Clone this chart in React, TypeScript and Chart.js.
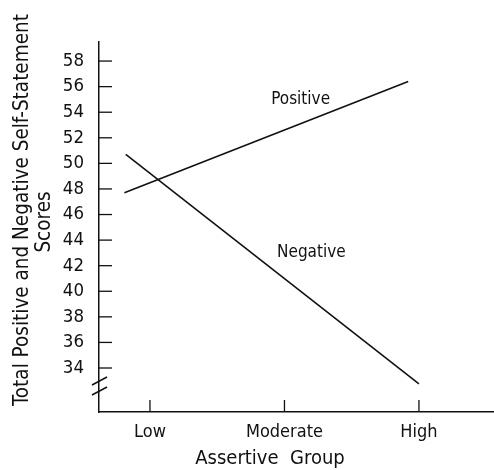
import React, { useEffect, useRef } from "react";
import { Chart, registerables } from "chart.js";

Chart.register(...registerables);

const groupLabels = ["Low", "Moderate", "High"];
const groupValues = [1, 2, 3];
const yTickValues = [34, 36, 38, 40, 42, 44, 46, 48, 50, 52, 54, 56, 58];

const positiveX = [0.81, 2.92];
const positiveY = [47.7, 56.4];
const negativeX = [0.82, 3.0];
const negativeY = [50.7, 32.75];

const FONT = "'DejaVu Sans Condensed', 'DejaVu Sans', sans-serif";
const INK = "#111111";

const decorPlugin = {
  id: "decor",
  afterDraw(chart: any) {
    const ctx = chart.ctx as CanvasRenderingContext2D;
    const xs = chart.scales.x;
    const ys = chart.scales.y;
    const left = chart.chartArea.left;
    const bottom = chart.chartArea.bottom;
    ctx.save();
    ctx.strokeStyle = INK;
    ctx.lineWidth = 1.3;
    // inner y ticks
    ys.ticks.forEach((t: any) => {
      const py = ys.getPixelForValue(t.value);
      ctx.beginPath();
      ctx.moveTo(left, py);
      ctx.lineTo(left + 13, py);
      ctx.stroke();
    });
    // inner x ticks
    xs.ticks.forEach((t: any) => {
      const px = xs.getPixelForValue(t.value);
      ctx.beginPath();
      ctx.moveTo(px, bottom);
      ctx.lineTo(px, bottom - 12);
      ctx.stroke();
    });
    // axis break slashes
    ctx.lineWidth = 1.5;
    [31, 21].forEach((off) => {
      ctx.beginPath();
      ctx.moveTo(left - 7, bottom - off + 4);
      ctx.lineTo(left + 8, bottom - off - 4);
      ctx.stroke();
    });
    // series labels
    ctx.fillStyle = INK;
    ctx.font = `17px ${FONT}`;
    ctx.textAlign = "center";
    ctx.textBaseline = "middle";
    ctx.fillText("Positive", xs.getPixelForValue(2.12), ys.getPixelForValue(54.95));
    ctx.fillText("Negative", xs.getPixelForValue(2.2), ys.getPixelForValue(43.0));
    // x title
    ctx.font = `20px ${FONT}`;
    ctx.fillText("Assertive  Group", 270, 459);
    // y title
    ctx.save();
    ctx.rotate(-Math.PI / 2);
    ctx.textBaseline = "alphabetic";
    ctx.font = `20.5px ${FONT}`;
    ctx.fillText("Total Positive and Negative Self-Statement", -210, 28);
    ctx.fillText("Scores", -222, 50);
    ctx.restore();
    ctx.restore();
  },
};

export default function App() {
  const ref = useRef<HTMLCanvasElement | null>(null);
  useEffect(() => {
    if (!ref.current) return;
    const chart = new Chart(ref.current, {
      type: "line",
      data: {
        datasets: [
          {
            label: "Positive",
            data: positiveX.map((x, i) => ({ x, y: positiveY[i] })),
            borderColor: INK,
            borderWidth: 1.6,
            pointRadius: 0,
            fill: false,
          },
          {
            label: "Negative",
            data: negativeX.map((x, i) => ({ x, y: negativeY[i] })),
            borderColor: INK,
            borderWidth: 1.6,
            pointRadius: 0,
            fill: false,
          },
        ],
      },
      options: {
        animation: false,
        responsive: false,
        devicePixelRatio: 1,
        layout: { padding: { top: 42, right: 0, left: 0, bottom: 0 } },
        plugins: { legend: { display: false }, tooltip: { enabled: false }, title: { display: false } },
        scales: {
          x: {
            type: "linear",
            min: 0.621,
            max: 3.558,
            afterBuildTicks: (s: any) => {
              s.ticks = groupValues.map((v) => ({ value: v }));
            },
            afterFit: (s: any) => {
              s.height = 58;
            },
            ticks: {
              autoSkip: false,
              maxRotation: 0,
              padding: 10,
              color: INK,
              font: { family: FONT, size: 18 },
              callback: (v: any) => {
                const i = groupValues.indexOf(Number(v));
                return i >= 0 ? groupLabels[i] : "";
              },
            },
            grid: { display: true, drawOnChartArea: false, drawTicks: false },
            border: { display: true, color: INK, width: 1.5 },
          },
          y: {
            type: "linear",
            min: 30.56,
            max: 59.49,
            afterBuildTicks: (s: any) => {
              s.ticks = yTickValues.map((v) => ({ value: v }));
            },
            afterFit: (s: any) => {
              s.width = 99;
            },
            ticks: {
              autoSkip: false,
              padding: 15,
              color: INK,
              font: { family: FONT, size: 18.5 },
            },
            grid: { display: true, drawOnChartArea: false, drawTicks: false },
            border: { display: true, color: INK, width: 1.5 },
          },
        },
      },
      plugins: [decorPlugin],
    });
    return () => chart.destroy();
  }, []);
  return (
    <div style={{ position: "absolute", left: 0, top: 0, width: 494, height: 470, background: "#fff" }}>
      <canvas ref={ref} width={494} height={470} />
    </div>
  );
}
